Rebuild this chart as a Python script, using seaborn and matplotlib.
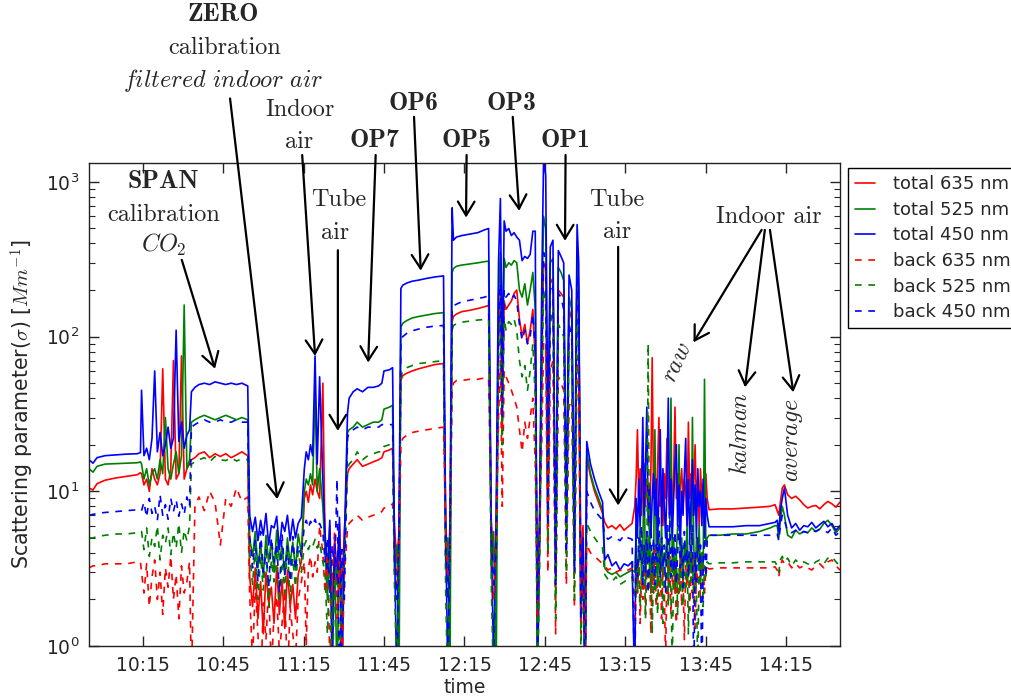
import numpy as np
import pandas as pd
import matplotlib
matplotlib.use("Agg")
import matplotlib.pyplot as plt
import matplotlib.dates as mdates
import matplotlib.transforms as mtransforms
import seaborn as sns

# ---------------- data ----------------
start_time = "2016-05-10 09:55"

# sample times, minutes after start_time
minutes = [
    0, 1.5, 3, 6, 10, 14, 18, 19.2,
    19.6, 20.5, 21.5, 22.5, 23.5, 24.5, 25.5, 26.5, 27.5, 28.5, 29.5, 30.5, 31.5, 32.5, 33.5, 34.5, 35.5, 36.5, 37.5,
    38.2, 39.5, 41, 43, 45, 47, 49, 51, 53, 55, 57, 59.2,
    59.9, 61, 62, 63, 64, 65, 66, 67, 68, 69, 70, 71, 72, 73, 74, 75, 76, 77, 78, 79.2,
    80.3, 81, 81.8, 82.6, 83.4, 84.3, 85.1, 86, 87.2,
    88, 88.9, 89.8, 90.7, 91.6, 92.5, 93.4, 94.3, 95.2,
    96.4, 97, 98.5, 100, 102, 104, 106, 108, 109.2, 110, 112, 113.2,
    113.9, 114.8, 115.6,
    116.3, 117, 118.5, 120.5, 123, 126, 129, 132.2,
    133, 133.8, 134.6,
    135.4, 135.9, 137, 139, 142, 145, 147.5, 149,
    150, 150.9, 151.8,
    152.7, 153.4, 154.1, 154.8, 155.5, 156.5, 157.5, 158.5, 159.5, 160.5, 161.5, 162.5, 163.5, 164.5, 165.5, 166.4,
    167.2, 168,
    168.8, 169.5, 170.3, 171.1, 172, 173, 174, 175, 176, 177, 178, 179, 180, 181, 182, 182.6,
    183.4, 184.2, 185,
    185.6, 187, 188.5, 190, 191.5,
    192.3, 193.5, 195, 196.5, 198, 199.5, 201, 202.5,
    203.5, 204, 204.5, 205, 205.5, 206, 206.5, 207, 207.5, 208, 208.5, 209, 209.5, 210, 210.5,
    211, 211.5, 212, 212.5, 213, 213.5, 214, 214.5, 215, 215.5, 216, 216.5, 217, 217.5, 218,
    218.5, 219, 219.5, 220, 220.5, 221, 221.5, 222, 222.5, 223, 223.5, 224, 224.5, 225, 225.5,
    226, 226.5, 227, 227.5, 228, 228.5, 229, 229.5, 230, 230.5,
    231.2, 235, 240, 245, 250, 254, 255.8,
    256.6, 257.2, 257.8, 258.5, 259.3, 260.5, 262, 263.5, 265, 266.5, 268, 269.5, 271, 272.5, 274, 275.5, 277, 278.5, 280,
]

total_635 = [
    10.5, 10.2, 11.2, 11.8, 12.2, 12.5, 12.8, 13.2,
    13, 11, 12, 10, 14, 12, 11, 13, 62, 12, 11, 14, 70, 12, 13, 75, 12, 14, 15,
    16, 16.5, 17.5, 18, 16.5, 17.5, 16.8, 17.5, 16.5, 17.2, 18, 17,
    2.8, 1.8, 3.2, 1.5, 2.6, 1.2, 3.0, 1.9, 2.4, 1.4, 3.3, 1.6, 2.7, 1.3, 3.1, 1.8, 2.5, 1.5, 2.9, 3.5,
    9, 10, 8.5, 11, 9.5, 12, 10, 9, 50,
    5.0, 2.5, 6.0, 1.8, 4.6, 3.0, 6.2, 2.2, 5.5,
    13, 14, 15, 16, 14.5, 15, 15.5, 16, 16.5, 18, 18.5, 19,
    6.0, 3.5, 5.5,
    52, 56, 58, 60, 62, 64, 66, 67,
    6.5, 3.0, 6.0,
    125, 135, 140, 145, 148, 152, 156, 159,
    6.5, 3.5, 5.0,
    90, 200, 25, 170, 150, 160, 170, 190, 200, 130, 100, 120, 90, 110, 150, 70,
    2.5, 7,
    60, 300, 280, 8, 220, 240, 3, 200, 190, 180, 6, 150, 130, 4, 290, 160,
    3, 6, 1.0,
    16.5, 12.5, 10, 8.5, 7.2,
    6.3, 5.8, 6.0, 5.7, 6.1, 5.6, 5.9, 6.2,
    8, 12, 25, 9, 14, 7, 11, 15, 8, 12, 10, 6, 13, 73, 9,
    12, 7, 14, 30, 8, 11, 6, 13, 9, 22, 10, 7, 15, 8, 12,
    35, 9, 13, 7, 11, 14, 8, 12, 10, 6, 28, 9, 13, 7, 11,
    20, 8, 12, 6, 14, 9, 11, 7, 13, 9,
    7.6, 7.7, 7.7, 7.8, 7.9, 8.0, 8.2,
    7.5, 7.0, 8.5, 10.5, 11.0, 9.5, 9.0, 9.3, 8.8, 8.2, 7.8, 8.0, 8.1, 7.7, 8.2, 8.6, 8.3, 7.9, 8.5,
]

total_525 = [
    14.0, 13.3, 14.5, 15.0, 15.1, 15.2, 15.3, 15.5,
    15, 12, 14, 11, 13, 14, 12, 16, 13, 30, 14, 12, 15, 18, 13, 17, 160, 14, 16,
    28, 29, 30, 31, 30, 29, 30, 31, 30, 29, 30, 29,
    5.0, 3.8, 5.5, 3.2, 4.6, 2.8, 5.2, 3.5, 4.8, 3.0, 5.6, 3.6, 4.4, 2.9, 5.0, 3.4, 4.7, 3.1, 5.3, 4.0,
    10, 12, 11, 13, 11, 45, 10, 14, 8,
    4.2, 2.0, 5.0, 1.5, 3.8, 0.6, 4.6, 1.2, 3.5,
    24, 25, 26, 28, 26, 27, 28, 28, 29, 34, 35, 36,
    3.0, 4.5, 0.5,
    115, 122, 127, 132, 135, 138, 141, 143,
    3.5, 5.0, 0.6,
    260, 275, 285, 290, 295, 300, 305, 308,
    3.0, 5.5, 0.5,
    180, 350, 40, 320, 280, 300, 290, 310, 300, 200, 180, 220, 160, 200, 260, 150,
    0.6, 4,
    120, 600, 500, 10, 300, 320, 2, 280, 260, 230, 5, 180, 150, 3, 380, 200,
    1.5, 4, 0.5,
    18, 13, 10.5, 9, 7.5,
    3.2, 3.0, 2.9, 3.0, 2.8, 2.9, 3.0, 3.1,
    3, 5, 2.5, 4, 6, 3, 4.5, 15, 2.5, 5, 3.5, 6, 2.2, 4, 3,
    25, 4.5, 2.5, 5, 3, 6, 2.8, 4, 3.5, 5.5, 2.5, 4.5, 40, 3, 5,
    2.2, 4, 6, 20, 3, 5, 2.5, 4.5, 3.5, 6, 2.8, 4, 3, 30, 4.5,
    2.5, 5, 3.5, 6, 2.8, 4, 3, 53, 4.5, 5,
    5.2, 5.2, 5.3, 5.3, 5.5, 5.8, 6.0,
    6.0, 5.0, 6.5, 8.0, 7.0, 5.2, 5.0, 5.6, 5.3, 5.5, 5.4, 5.8, 5.5, 5.7, 6.2, 6.5, 6.0, 5.4, 5.8,
]

total_450 = [
    16.0, 15.2, 16.5, 17.0, 17.2, 17.4, 17.5, 17.8,
    45, 17, 19, 16, 22, 60, 18, 24, 17, 20, 26, 19, 22, 110, 21, 28, 19, 23, 25,
    44, 47, 49, 50, 49, 51, 50, 49, 50, 49, 50, 48,
    7.0, 5.5, 6.8, 4.8, 6.5, 5.2, 7.2, 4.5, 6.0, 5.8, 6.9, 4.2, 6.3, 5.5, 7.0, 4.8, 6.6, 5.0, 6.2, 6.8,
    14, 18, 16, 20, 17, 75, 15, 55, 12,
    5.5, 3.0, 6.5, 0.6, 5.0, 2.5, 6.8, 0.5, 4.5,
    32, 40, 44, 46, 44, 47, 47, 48, 50, 60, 61, 63,
    5.0, 0.5, 6.0,
    205, 215, 222, 228, 232, 238, 243, 247,
    6.0, 0.6, 5.0,
    680, 420, 440, 450, 460, 470, 490, 500,
    5.5, 0.7, 6.5,
    300, 780, 60, 560, 480, 500, 450, 470, 440, 420, 310, 330, 320, 340, 480, 480,
    0.5, 6,
    200, 1400, 1100, 20, 380, 420, 3, 360, 330, 300, 8, 250, 200, 5, 530, 300,
    2.0, 5, 0.5,
    21, 15, 12, 10, 8.5,
    3.6, 3.9, 3.3, 3.5, 3.1, 3.4, 3.3, 3.5,
    0.5, 9, 5, 12, 6, 10, 30, 7, 14, 35, 6, 11, 5, 9, 13,
    7, 12, 4.5, 10, 25, 6, 14, 8, 5, 11, 40, 7, 12, 5, 9,
    15, 20, 6, 11, 4.5, 10, 7, 13, 22, 6, 12, 5, 9, 16, 7,
    11, 5, 14, 8, 10, 6, 12, 5, 9, 7,
    5.9, 5.9, 5.9, 6.0, 6.0, 6.2, 6.3,
    6.5, 5.5, 7.5, 9.0, 10.5, 7.0, 5.8, 6.2, 5.6, 6.0, 5.9, 6.3, 5.8, 6.1, 6.4, 5.9, 6.2, 5.6, 6.0,
]

back_635 = [
    3.2, 3.3, 3.3, 3.4, 3.4, 3.4, 3.5, 3.5,
    3.0, 2.2, 3.4, 1.8, 2.8, 3.6, 2.0, 3.0, 1.6, 3.2, 2.4, 3.8, 2.0, 2.9, 1.5, 3.3, 2.2, 2.6, 3.5,
    0.6, 8.0, 9.2, 7.5, 10.0, 8.5, 4.5, 9.0, 8.0, 10.5, 8.6, 9.2,
    2.2, 0.8, 2.5, 1.2, 0.5, 1.9, 1.1, 2.4, 0.7, 1.6, 2.1, 0.9, 1.4, 2.3, 0.6, 1.8, 1.2, 0.8, 2.0, 2.6,
    3.5, 1.0, 3.2, 3.8, 2.8, 3.5, 3.0, 6.0, 4.0,
    2.2, 4.0, 0.8, 3.0, 5.5, 1.5, 3.5, 0.6, 2.8,
    5.8, 6.2, 6.6, 7.0, 6.5, 6.8, 7.0, 7.2, 7.4, 7.8, 8.0, 8.3,
    5.0, 2.5, 4.5,
    20, 22, 23, 24, 24.5, 25, 25.5, 26,
    5.5, 2.8, 4.0,
    45, 50, 52, 52, 53, 53, 54, 54,
    5.5, 2.0, 4.5,
    30, 70, 8, 60, 55, 50, 45, 40, 35, 25, 18, 28, 22, 30, 40, 15,
    1.5, 5,
    20, 90, 80, 3, 60, 70, 1.2, 55, 50, 45, 2.5, 35, 40, 1.8, 75, 45,
    1.2, 3.5, 0.8,
    4.5, 4.0, 3.8, 3.6, 3.4,
    3.3, 3.1, 3.2, 3.0, 3.1, 3.0, 3.1, 3.2,
    1.5, 3, 2.2, 3.8, 1.4, 2.8, 2, 4, 1.6, 3.2, 2.4, 3.6, 1.2, 3, 2.2,
    4.2, 1.8, 2.8, 2.1, 3.5, 1.5, 3.2, 2.4, 0.8, 3.4, 2, 3.8, 1.6, 2.9, 2.3,
    3.6, 1.4, 3, 2.2, 3.9, 1.8, 2.7, 1.1, 3.3, 2.4, 3.5, 1.7, 2.9, 2.2, 3.8,
    1.3, 3.1, 2.5, 3.6, 1.9, 2.8, 3.4, 2.2, 3.1, 3.2,
    3.15, 3.2, 3.2, 3.2, 3.2, 3.2, 3.25,
    3.1, 2.8, 3.3, 3.6, 3.4, 3.5, 3.2, 3.4, 3.2, 3.3, 3.2, 3.1, 3.3, 3.4, 3.2, 3.5, 3.6, 3.3, 3.1,
]

back_525 = [
    5.0, 5.0, 5.1, 5.2, 5.3, 5.3, 5.4, 5.4,
    5.5, 4.2, 5.8, 3.8, 5.0, 4.4, 6.0, 3.6, 5.2, 4.6, 5.8, 3.9, 5.4, 4.3, 6.2, 4.0, 5.6, 4.8, 6.0,
    15, 15.5, 16, 16.5, 15.5, 16.8, 16, 15.8, 16.5, 15.7, 16.2, 16,
    4.0, 2.5, 4.4, 2.0, 3.8, 2.3, 4.5, 1.8, 3.6, 2.6, 4.2, 1.9, 3.9, 2.2, 4.3, 2.0, 3.7, 2.4, 4.1, 3.0,
    4.5, 4.8, 4.2, 4.6, 4.4, 4.9, 4.3, 4.7, 3.5,
    3.0, 1.2, 3.6, 0.5, 2.8, 3.4, 0.7, 2.6, 3.2,
    14, 15, 16, 18, 16, 17, 17.5, 18, 18, 19.5, 20, 20,
    2.5, 0.6, 3.0,
    55, 60, 63, 65, 67, 68, 69, 70,
    2.2, 0.5, 3.2,
    110, 118, 121, 124, 126, 128, 129, 130,
    2.5, 0.5, 3.0,
    70, 140, 20, 130, 110, 125, 120, 130, 110, 70, 55, 65, 45, 60, 90, 40,
    0.5, 3,
    40, 200, 160, 4, 120, 150, 1.5, 120, 110, 100, 3, 80, 70, 2, 130, 90,
    1, 3, 0.5,
    6.2, 5.5, 5.0, 4.6, 4.3,
    2.9, 2.7, 2.6, 2.8, 2.5, 2.6, 2.7, 2.8,
    2, 3.5, 2.2, 4, 1.8, 3, 2.5, 4.5, 1.5, 3.5, 90, 2.8, 4, 1.2, 3.2,
    2.2, 4.5, 1.6, 3.5, 2.4, 4, 1.4, 3, 2.6, 4.2, 1.8, 3.6, 2.2, 0.8, 3.4,
    2.5, 4, 1.6, 3.2, 2.2, 4.3, 1.8, 3, 2.4, 3.8, 1.2, 3.5, 2.6, 4, 1.9,
    3.2, 2.2, 0.7, 3.6, 2.5, 4, 1.8, 3.3, 2.8, 3.5,
    3.4, 3.45, 3.45, 3.5, 3.5, 3.5, 3.5,
    3.3, 3.0, 3.6, 3.8, 3.5, 3.7, 3.3, 3.6, 3.4, 3.5, 3.4, 3.3, 3.5, 3.6, 3.4, 3.7, 3.8, 3.5, 3.3,
]

back_450 = [
    7.0, 7.1, 7.2, 7.3, 7.4, 7.5, 7.6, 7.6,
    7.5, 8.5, 6.8, 9.0, 7.2, 8.0, 6.5, 9.5, 7.0, 8.2, 6.6, 9.0, 7.4, 8.8, 6.9, 8.3, 7.1, 9.2, 8.0,
    26, 27, 28, 29, 28, 28, 29, 28, 28, 29, 28, 28,
    5.2, 3.2, 4.8, 2.6, 5.5, 3.0, 4.2, 2.4, 5.0, 3.5, 4.6, 2.2, 5.3, 2.9, 4.4, 2.6, 5.1, 3.1, 4.5, 3.8,
    6.0, 6.5, 5.8, 6.4, 6.0, 6.6, 5.9, 6.2, 5.5,
    3.5, 5.0, 2.2, 4.5, 3.0, 12, 0.5, 4.2, 2.0,
    22, 24, 25, 26, 25, 26, 26, 26, 27, 27, 27, 27,
    4.0, 2.0, 5.0,
    95, 100, 105, 109, 112, 115, 117, 118,
    4.5, 2.0, 5.5,
    150, 158, 162, 168, 172, 176, 180, 184,
    5.0, 2.5, 4.0,
    120, 220, 30, 200, 180, 190, 175, 185, 170, 120, 95, 110, 90, 100, 140, 80,
    2, 5,
    70, 350, 300, 6, 200, 220, 2.5, 190, 180, 150, 4, 120, 100, 3, 250, 140,
    1.5, 4, 0.5,
    10, 8.5, 7.5, 7, 6.5,
    5.2, 4.9, 5.1, 5.0, 4.8, 5.2, 5.0, 4.9,
    0.5, 4, 2.8, 5, 3.5, 6, 2.5, 4.5, 3, 5.5, 2.2, 4, 6.5, 3, 5,
    2.5, 4.5, 3.5, 7, 2.8, 5, 3.2, 4.5, 2.2, 6, 3.5, 8, 2.8, 4.5, 3,
    5.5, 2.5, 4, 6, 3.2, 4.5, 2.4, 5.5, 3.5, 4.2, 2.8, 5, 3.5, 6, 0.5,
    4, 2.6, 5, 3.3, 4.5, 0.5, 3.5, 5, 2.8, 4.8,
    5.2, 5.2, 5.2, 5.2, 5.2, 5.2, 5.3,
    5.3, 4.8, 6.0, 7.0, 6.5, 5.5, 5.4, 5.6, 5.3, 5.5, 5.4, 5.6, 5.5, 5.7, 5.6, 5.4, 5.8, 5.2, 5.5,
]

series_values = [total_635, total_525, total_450, back_635, back_525, back_450]
series_labels = ["total 635 nm", "total 525 nm", "total 450 nm",
                 "back 635 nm", "back 525 nm", "back 450 nm"]
for lbl, vals in zip(series_labels, series_values):
    assert len(vals) == len(minutes), (lbl, len(vals), len(minutes))

# ---------------- styling ----------------
series_colors = ["#ff0000", "#008000", "#0000ff", "#ff0000", "#008000", "#0000ff"]
series_styles = ["-", "-", "-", (0, (4, 4)), (0, (4, 4)), (0, (4, 4))]

sns.set_style("ticks")
plt.rcParams.update({
    "font.family": ["DejaVu Sans"],
    "axes.edgecolor": "#222222",
    "axes.linewidth": 1.0,
    "xtick.direction": "in",
    "ytick.direction": "in",
})

fig = plt.figure(figsize=(10.11, 7.0), dpi=100)
ax = fig.add_axes([0.0880, 0.0771, 0.7428, 0.6904])

t0 = pd.Timestamp(start_time)
times = t0 + pd.to_timedelta(minutes, unit="min")
df = pd.DataFrame({"time": times})
for lbl, vals in zip(series_labels, series_values):
    df[lbl] = vals

for lbl, col, ls in zip(series_labels, series_colors, series_styles):
    sns.lineplot(data=df, x="time", y=lbl, ax=ax, color=col, linestyle=ls,
                 linewidth=1.2, label=lbl, estimator=None)

ax.set_yscale("log")
ax.set_ylim(1, 1330)
ax.set_xlim(t0, t0 + pd.Timedelta(minutes=280))
ax.xaxis.set_major_locator(mdates.MinuteLocator(byminute=[15, 45]))
ax.xaxis.set_major_formatter(mdates.DateFormatter("%H:%M"))
ax.tick_params(which="major", length=7, width=1, labelsize=13.5, top=True, right=True,
               direction="in", pad=7)
ax.tick_params(which="minor", length=4, width=0.8, top=False, right=True, direction="in")
ax.tick_params(axis="x", which="minor", bottom=False, top=False)

ax.set_xlabel("time", fontsize=13.5, labelpad=2)
ax.set_ylabel(r"Scattering parameter($\sigma$) [$Mm^{-1}$]", fontsize=14.8,
              math_fontfamily="cm", labelpad=6)

leg = ax.legend(loc="upper left", bbox_to_anchor=(1.0107, 0.989), fontsize=13,
                frameon=True, fancybox=False, edgecolor="black", framealpha=1,
                handlelength=1.1, handletextpad=1.0, borderaxespad=0,
                labelspacing=0.42)
leg.get_frame().set_linewidth(1.0)

# ---------------- annotations ----------------
def tnum(m):
    return mdates.date2num(t0 + pd.Timedelta(minutes=m))

blend = mtransforms.blended_transform_factory(ax.transData, ax.transAxes)

labels = [
    ("ZERO", 50.1, 1.306, "bold", 0),
    ("calibration", 50.7, 1.237, "rm", 0),
    (r"$\mathit{filtered\ indoor\ air}$", 50.1, 1.171, "math", 0),
    ("Indoor", 78.7, 1.109, "rm", 0),
    ("air", 78.4, 1.043, "rm", 0),
    ("SPAN", 27.7, 0.961, "bold", 0),
    ("calibration", 27.7, 0.892, "rm", 0),
    (r"$CO_2$", 27.7, 0.830, "math", 0),
    ("Tube", 93.2, 0.923, "rm", 0),
    ("air", 91.7, 0.855, "rm", 0),
    ("OP6", 120.9, 1.123, "bold", 0),
    ("OP3", 157.6, 1.123, "bold", 0),
    ("OP7", 106.6, 1.046, "bold", 0),
    ("OP5", 140.8, 1.046, "bold", 0),
    ("OP1", 177.5, 1.046, "bold", 0),
    ("Tube", 196.8, 0.923, "rm", 0),
    ("air", 196.8, 0.857, "rm", 0),
    ("Indoor air", 253.3, 0.888, "rm", 0),
    (r"$raw$", 219.1, 0.588, "math", 65),
    (r"$kalman$", 242.7, 0.440, "math", 90),
    (r"$average$", 262.6, 0.426, "math", 90),
]
for s, tm, yf, kind, rot in labels:
    kw = dict(transform=blend, ha="center", va="center", rotation=rot,
              clip_on=False, math_fontfamily="cm")
    if kind == "bold":
        ax.text(tnum(tm), yf, s, fontsize=18.5, family="cmb10", **kw)
    elif kind == "rm":
        ax.text(tnum(tm), yf, s, fontsize=17.5, family="cmr10", **kw)
    else:
        ax.text(tnum(tm), yf, s, fontsize=17.5, **kw)

arrows = [
    (34.6, 0.799, 47.0, 62),
    (52.6, 1.133, 70.2, 8.9),
    (79.5, 1.016, 84.3, 75),
    (92.8, 0.819, 92.8, 24.6),
    (106.9, 1.016, 104.1, 68),
    (121.2, 1.095, 123.7, 267),
    (140.8, 1.016, 140.6, 588),
    (158.0, 1.095, 160.4, 650),
    (177.7, 1.016, 177.5, 416),
    (197.3, 0.826, 197.3, 8.1),
    (250.8, 0.861, 225.4, 91.9),
    (252.0, 0.861, 244.6, 47.1),
    (253.9, 0.861, 262.6, 43.7),
]
for ta, ya, tb, vb in arrows:
    ax.annotate("", xy=(tnum(tb), vb), xycoords="data",
                xytext=(tnum(ta), ya), textcoords=blend,
                arrowprops=dict(arrowstyle="->,head_length=0.5,head_width=0.3",
                                lw=1.6, color="black", shrinkA=0, shrinkB=0,
                                mutation_scale=20),
                annotation_clip=False)

fig.savefig("out.png", dpi=100)
